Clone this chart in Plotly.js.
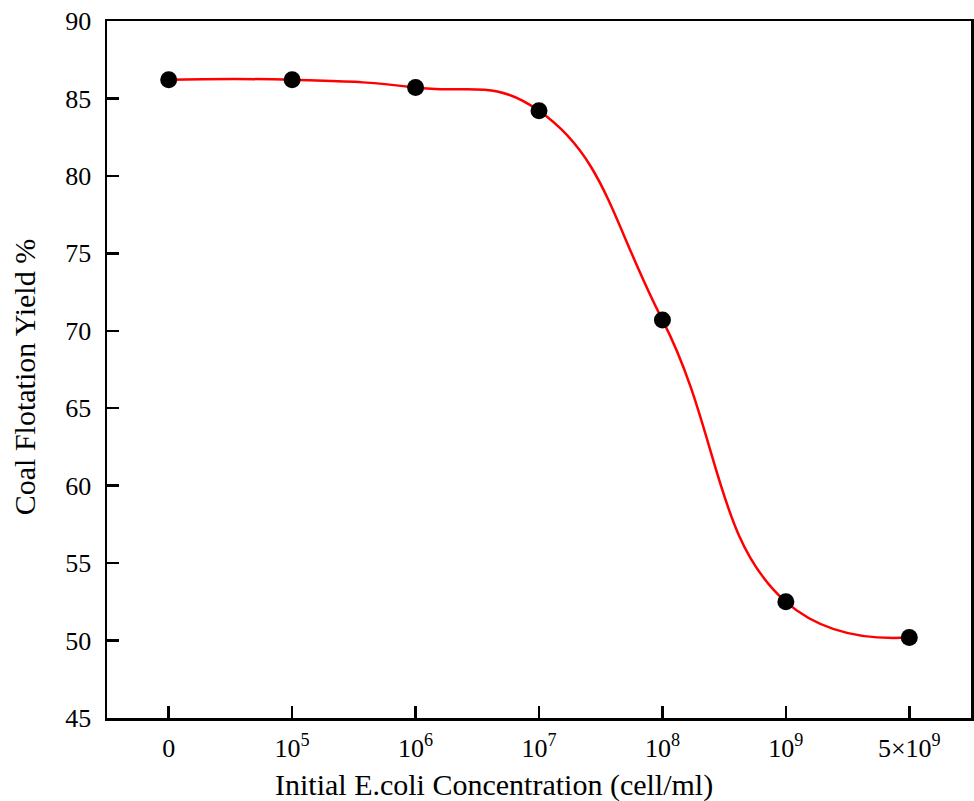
<!DOCTYPE html>
<html>
<head>
<meta charset="utf-8">
<script src="https://cdn.plot.ly/plotly-3.0.1.min.js"></script>
<style>html,body{margin:0;padding:0;background:#fff;}#chart{width:974px;height:801px;}</style>
</head>
<body>
<div id="chart"></div>
<script>
const categories = [0, 1, 2, 3, 4, 5, 6];
const tickLabels = ["0", "10<sup>5</sup>", "10<sup>6</sup>", "10<sup>7</sup>", "10<sup>8</sup>", "10<sup>9</sup>", "5×10<sup>9</sup>"];
const yieldValues = [86.2, 86.2, 85.7, 84.2, 70.7, 52.5, 50.2];
const yTicks = [45, 50, 55, 60, 65, 70, 75, 80, 85, 90];
const xTitle = "Initial E.coli Concentration (cell/ml)";
const yTitle = "Coal Flotation Yield %";

const tickFont = {family: "Liberation Serif, Times New Roman, serif", size: 26, color: "#000"};
const titleFont = {family: "Liberation Serif, Times New Roman, serif", size: 30, color: "#000"};

const traces = [
  {x: categories, y: yieldValues, mode: "lines", line: {color: "#ff0000", width: 2.5, shape: "spline", smoothing: 1.3}, hoverinfo: "skip"},
  {x: categories, y: yieldValues, mode: "markers", marker: {color: "#000", size: 17}}
];

const layout = {
  width: 974, height: 801,
  margin: {l: 107, r: 3, t: 21, b: 83},
  paper_bgcolor: "#fff", plot_bgcolor: "#fff",
  showlegend: false,
  font: tickFont,
  xaxis: {
    range: [-0.5, 6.5], tickvals: categories, ticktext: tickLabels,
    ticks: "inside", ticklen: 12, tickwidth: 2.5, tickcolor: "#000",
    showline: true, linewidth: 2.5, linecolor: "#000", mirror: true,
    showgrid: false, zeroline: false, tickfont: tickFont, ticklabelstandoff: 5,
    automargin: false
  },
  yaxis: {
    range: [45, 90], tickvals: yTicks,
    ticks: "inside", ticklen: 12, tickwidth: 2.5, tickcolor: "#000",
    showline: true, linewidth: 2.5, linecolor: "#000", mirror: true,
    showgrid: false, zeroline: false, tickfont: tickFont, ticklabelstandoff: 8,
    automargin: false
  },
  annotations: [
    {text: xTitle, xref: "paper", yref: "paper", x: 0.448, y: -0.096, xanchor: "center", yanchor: "middle", showarrow: false, font: titleFont},
    {text: yTitle, xref: "paper", yref: "paper", x: -0.096, y: 0.489, xanchor: "center", yanchor: "middle", textangle: -90, showarrow: false, font: titleFont}
  ]
};

Plotly.newPlot("chart", traces, layout, {displayModeBar: false, staticPlot: true});
</script>
</body>
</html>
